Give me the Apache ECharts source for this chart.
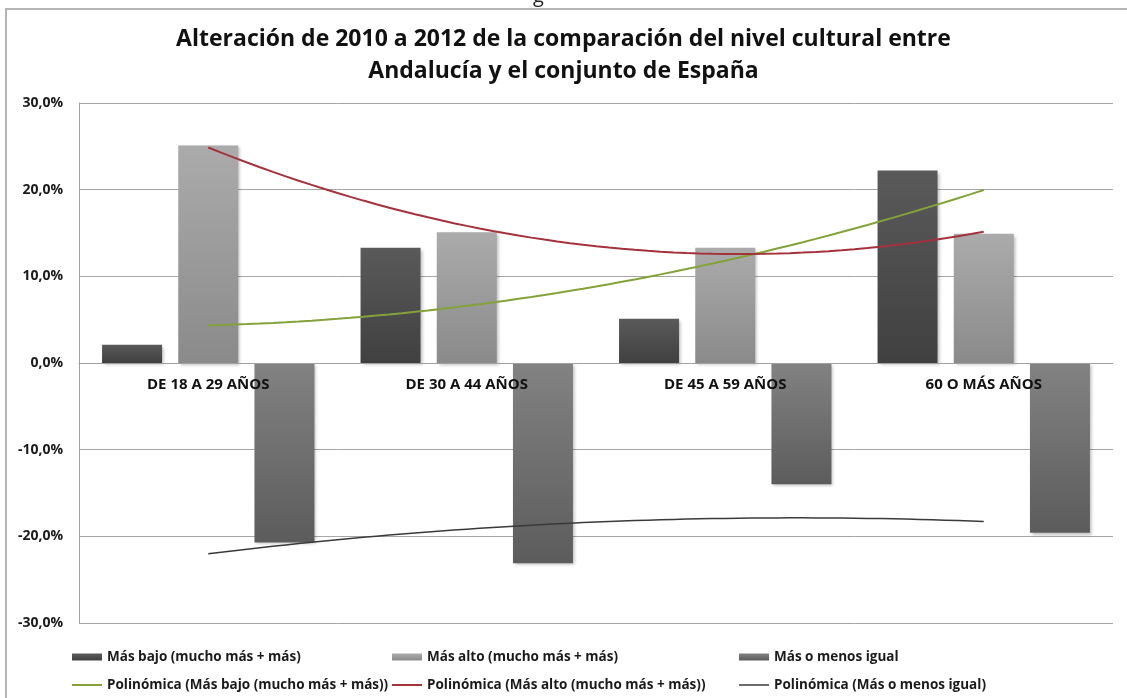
<!DOCTYPE html>
<html>
<head>
<meta charset="utf-8">
<style>
  html, body { margin: 0; padding: 0; background: #fff; }
  #chart { width: 1127px; height: 698px; }
</style>
<script src="https://cdn.jsdelivr.net/npm/echarts@6/dist/echarts.min.js"></script>
</head>
<body>
<div id="chart"></div>
<script>
// Age groups on the category axis
const categories = ['DE 18 A 29 AÑOS', 'DE 30 A 44 AÑOS', 'DE 45 A 59 AÑOS', '60 O MÁS AÑOS'];

// Change 2010 → 2012 (percentage points)
const masBajo = [2.1, 13.3, 5.1, 22.2];
const masAlto = [25.1, 15.1, 13.3, 14.9];
const igual   = [-20.7, -23.1, -14.0, -19.6];

// Value axis ticks
const yTicks = [-30, -20, -10, 0, 10, 20, 30];

const seriesNames = ['Más bajo (mucho más + más)', 'Más alto (mucho más + más)', 'Más o menos igual'];
const trendNames = seriesNames.map(n => 'Polinómica (' + n + ')');

// Second-order least-squares trend line over category positions 1..n
function quadFit(ys) {
  const n = ys.length;
  const xs = ys.map((_, i) => i + 1);
  // normal equations for a + b x + c x^2
  let s = [0, 0, 0, 0, 0], t = [0, 0, 0];
  xs.forEach((x, i) => {
    for (let k = 0; k < 5; k++) s[k] += Math.pow(x, k);
    for (let k = 0; k < 3; k++) t[k] += Math.pow(x, k) * ys[i];
  });
  const M = [[s[0], s[1], s[2], t[0]], [s[1], s[2], s[3], t[1]], [s[2], s[3], s[4], t[2]]];
  for (let i = 0; i < 3; i++) {
    for (let j = i + 1; j < 3; j++) {
      const f = M[j][i] / M[i][i];
      for (let k = i; k < 4; k++) M[j][k] -= f * M[i][k];
    }
  }
  const c = [0, 0, 0];
  for (let i = 2; i >= 0; i--) {
    let v = M[i][3];
    for (let k = i + 1; k < 3; k++) v -= M[i][k] * c[k];
    c[i] = v / M[i][i];
  }
  const pts = [];
  for (let x = 1; x <= n + 1e-9; x += 0.05) pts.push([x, c[0] + c[1] * x + c[2] * x * x]);
  return pts;
}

function grad(top, bottom) {
  return new echarts.graphic.LinearGradient(0, 0, 0, 1, [
    { offset: 0, color: top }, { offset: 1, color: bottom }
  ]);
}

const barShadow = { shadowBlur: 3, shadowOffsetX: 2, shadowOffsetY: 2, shadowColor: 'rgba(0,0,0,0.25)' };

const chart = echarts.init(document.getElementById('chart'), null, { renderer: 'canvas' });

const legendText = { fontFamily: 'Open Sans', fontWeight: 'bold', fontSize: 13.5, color: '#1a1a1a' };
// one legend per cell: bar swatches on the first row, trend lines on the second
function legendCell(left, top, name, h) {
  return {
    orient: 'horizontal', left: left, top: top, itemWidth: 30, itemHeight: h, icon: 'rect',
    data: [name], textStyle: legendText, selectedMode: false, padding: 0
  };
}
const row1 = 650, row2 = 678;
const colLeft = [72, 392, 739];

// plot area
const gridTop = 103, gridBottom = 75, gridHeight = 698 - gridTop - gridBottom;
const yMin = yTicks[0], yMax = yTicks[yTicks.length - 1];
// category axis sits on the zero line
const zeroOffset = -gridHeight * (0 - yMin) / (yMax - yMin);

chart.setOption({
  animation: false,
  backgroundColor: '#fff',
  title: {
    text: 'Alteración de 2010 a 2012 de la comparación del nivel cultural entre\nAndalucía y el conjunto de España',
    left: 'center', top: 18,
    textStyle: { fontFamily: 'Open Sans', fontWeight: 'bold', fontSize: 23, lineHeight: 32, color: '#111' }
  },
  graphic: [
    { type: 'rect', shape: { x: 6, y: 9, width: 1200, height: 800 },
      style: { fill: 'none', stroke: '#b4b4b4', lineWidth: 2 }, silent: true },
    { type: 'text', left: 533, top: -14, silent: true,
      style: { text: 'g', fontFamily: 'Open Sans', fontSize: 20, fill: '#222' } }
  ],
  legend: [
    legendCell(colLeft[0], row1, seriesNames[0], 7),
    legendCell(colLeft[1], row1, seriesNames[1], 7),
    legendCell(colLeft[2], row1, seriesNames[2], 7),
    legendCell(colLeft[0], row2, trendNames[0], 2),
    legendCell(colLeft[1], row2, trendNames[1], 2),
    legendCell(colLeft[2], row2, trendNames[2], 1.5)
  ],
  grid: { left: 79, right: 14, top: gridTop, bottom: gridBottom, containLabel: false },
  xAxis: [
    {
      type: 'category', data: categories, position: 'bottom', offset: zeroOffset, z: 10,
      axisLine: { onZero: false, lineStyle: { color: '#a0a0a0', width: 1 } },
      axisTick: { show: false },
      axisLabel: { interval: 0, margin: 14, fontFamily: 'Open Sans', fontWeight: 'bold', fontSize: 15, color: '#111' }
    },
    { type: 'value', min: 0.5, max: 4.5, show: false, axisLine: { onZero: false } }
  ],
  yAxis: {
    type: 'value', min: yMin, max: yMax, interval: 10,
    axisLine: { show: true, onZero: false, lineStyle: { color: '#a0a0a0' } },
    axisTick: { show: false },
    splitLine: { lineStyle: { color: '#a6a6a6', width: 1 } },
    axisLabel: {
      margin: 16, fontFamily: 'Open Sans', fontWeight: 'bold', fontSize: 14, color: '#1a1a1a',
      formatter: v => v.toFixed(1).replace('.', ',') + '%'
    }
  },
  series: [
    { name: seriesNames[0], type: 'bar', data: masBajo, barWidth: 60, barGap: '27%',
      itemStyle: Object.assign({ color: grad('#5a5a5a', '#404040') }, barShadow) },
    { name: seriesNames[1], type: 'bar', data: masAlto, barWidth: 60, barGap: '27%',
      itemStyle: Object.assign({ color: grad('#ababab', '#8a8a8a') }, barShadow) },
    { name: seriesNames[2], type: 'bar', data: igual, barWidth: 60, barGap: '27%',
      itemStyle: Object.assign({ color: grad('#828282', '#5c5c5c') }, barShadow) },
    { name: trendNames[0], type: 'line', xAxisIndex: 1, data: quadFit(masBajo), symbol: 'none', z: 5,
      lineStyle: { color: '#85a23a', width: 2 }, itemStyle: { color: '#85a23a' } },
    { name: trendNames[1], type: 'line', xAxisIndex: 1, data: quadFit(masAlto), symbol: 'none', z: 5,
      lineStyle: { color: '#a3323c', width: 2 }, itemStyle: { color: '#a3323c' } },
    { name: trendNames[2], type: 'line', xAxisIndex: 1, data: quadFit(igual), symbol: 'none', z: 5,
      lineStyle: { color: '#3a3a3a', width: 1.5 }, itemStyle: { color: '#3a3a3a' } }
  ]
});
</script>
</body>
</html>
